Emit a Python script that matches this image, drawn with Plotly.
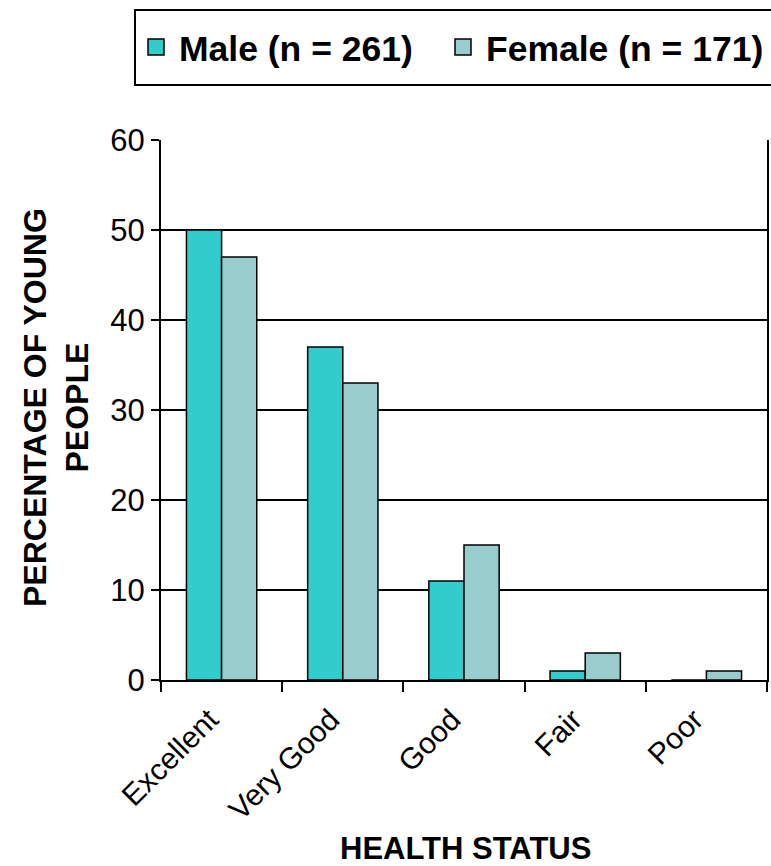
import plotly.graph_objects as go

categories = ["Excellent", "Very Good", "Good", "Fair", "Poor"]
male = [50, 37, 11, 1, 0]
female = [47, 33, 15, 3, 1]
male_name = "Male (n = 261)"
female_name = "Female (n = 171)"
y_ticks = [0, 10, 20, 30, 40, 50, 60]

W, H = 771, 866
L, R, T, B = 161, 4, 140, 186
pw, ph = W - L - R, H - T - B

def px_x(x):
    return (x - L) / pw

def px_y(y):
    return (H - B - y) / ph

FONT = "Liberation Sans, Arial, sans-serif"
C_MALE, C_FEMALE = "#33CCCC", "#99CCCC"

fig = go.Figure()
fig.add_trace(go.Bar(x=categories, y=male, name=male_name, showlegend=False,
                     marker=dict(color=C_MALE, line=dict(color="black", width=1.5))))
fig.add_trace(go.Bar(x=categories, y=female, name=female_name, showlegend=False,
                     marker=dict(color=C_FEMALE, line=dict(color="black", width=1.5))))
# legend entries with larger square symbols
for nm, col, lg in [(male_name, C_MALE, "legend"), (female_name, C_FEMALE, "legend2")]:
    fig.add_trace(go.Scatter(x=[None], y=[None], mode="markers", name=nm, legend=lg,
                             marker=dict(symbol="square", size=16, color=col,
                                         line=dict(color="black", width=1.5))))

legend_common = dict(orientation="h", xanchor="left", y=px_y(47.5), yanchor="middle",
                     font=dict(family=FONT, size=35.5, weight="bold", color="black"),
                     bgcolor="rgba(0,0,0,0)", borderwidth=0, itemsizing="trace",
                     itemwidth=36)

fig.update_layout(
    width=W, height=H,
    margin=dict(l=L, r=R, t=T, b=B, autoexpand=False),
    paper_bgcolor="white", plot_bgcolor="white",
    barmode="group", bargap=0.42, bargroupgap=0,
    font=dict(family=FONT, color="black", size=28),
    showlegend=True,
    legend=dict(x=px_x(133), **legend_common),
    legend2=dict(x=px_x(440), **legend_common),
    xaxis=dict(type="category", showline=True, linecolor="black", linewidth=2,
               ticks="outside", tickson="boundaries", ticklen=10, tickwidth=2,
               tickcolor="black", tickangle=-45, showgrid=False,
               ticklabelshift=-12, ticklabelstandoff=8,
               tickfont=dict(family=FONT, size=30, color="black"), automargin=False),
    yaxis=dict(range=[0, 60], tickvals=y_ticks, showline=True, linecolor="black",
               linewidth=2, mirror=True, ticks="outside", ticklen=8, tickwidth=2,
               tickcolor="black", showgrid=True, gridcolor="black", gridwidth=1.5,
               zeroline=False, tickfont=dict(family=FONT, size=31, color="black"),
               automargin=False),
    shapes=[dict(type="rect", xref="paper", yref="paper",
                 x0=px_x(135), x1=px_x(775), y0=px_y(85), y1=px_y(10),
                 line=dict(color="black", width=2), fillcolor="rgba(0,0,0,0)")],
    annotations=[
        dict(text="PERCENTAGE OF YOUNG<br>PEOPLE", xref="paper", yref="paper",
             x=px_x(56), y=px_y(408), xanchor="center", yanchor="middle",
             textangle=-90, showarrow=False, align="center",
             font=dict(family=FONT, size=32, weight="bold", color="black")),
        dict(text="HEALTH STATUS", xref="paper", yref="paper",
             x=px_x(465), y=px_y(848), xanchor="center", yanchor="middle",
             showarrow=False,
             font=dict(family=FONT, size=31, weight="bold", color="black")),
    ],
)

fig.write_html("out.html", config={"displayModeBar": False},
               post_script="document.body.style.margin='0px';")
